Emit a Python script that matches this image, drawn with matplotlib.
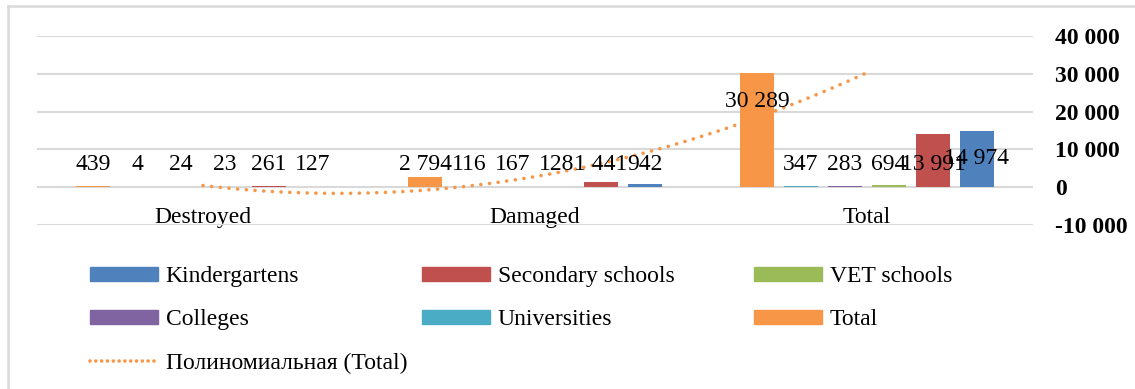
import numpy as np
import matplotlib
matplotlib.use('Agg')
import matplotlib.pyplot as plt
from matplotlib.patches import Patch
from matplotlib.lines import Line2D

plt.rcParams['font.family'] = ['Liberation Serif', 'DejaVu Serif']

categories = ['Destroyed', 'Damaged', 'Total']

# series in the order the bars sit inside each group
series_names = ['Total', 'Universities', 'Colleges', 'VET schools', 'Secondary schools', 'Kindergartens']
total = [439, 2794, 30289]
universities = [4, 116, 347]
colleges = [24, 167, 283]
vet_schools = [23, 128, 694]
secondary = [261, 1441, 13991]
kindergartens = [127, 942, 14974]

colors = {
    'Kindergartens': '#4F81BD',
    'Secondary schools': '#C0504D',
    'VET schools': '#9BBB59',
    'Colleges': '#8064A2',
    'Universities': '#4BACC6',
    'Total': '#F79646',
}

values = [total, universities, colleges, vet_schools, secondary, kindergartens]

fig = plt.figure(figsize=(11.35, 3.89), dpi=100)
ax = fig.add_axes([37 / 1135, (389 - 225) / 389, (1033 - 37) / 1135, (225 - 36) / 389])

x = np.arange(len(categories))
step = 0.1325
width = 0.105
fs = 17


def fmt(v):
    return f'{v:,}'.replace(',', ' ')


# data labels were pulled to a common height, a couple sit elsewhere
label_y = {(2, 0): 22800, (2, 5): 7700}

for i, (name, vals) in enumerate(zip(series_names, values)):
    xs = x + (i - 2.5) * step
    ax.bar(xs, vals, width, color=colors[name], zorder=2)
    for j, v in enumerate(vals):
        ax.text(xs[j], label_y.get((j, i), 6100), fmt(v), ha='center', va='center',
                fontsize=fs, zorder=3)

# polynomial trend of the Total series
coef = np.polyfit(x, total, 2)
xt = np.linspace(0, 2, 200)
ax.plot(xt, np.polyval(coef, xt), color='#F79646', lw=2.6,
        linestyle=(0, (0.01, 2.4)), dash_capstyle='round', zorder=1)

for s in ['top', 'left', 'right', 'bottom']:
    ax.spines[s].set_visible(False)
ax.spines['bottom'].set_position(('data', 0))

ax.set_xlim(-0.5, 2.5)
ax.set_ylim(-10000, 40000)
ax.set_yticks(np.arange(-10000, 40001, 10000))
ax.set_yticklabels([fmt(t) for t in np.arange(-10000, 40001, 10000)],
                   fontsize=fs, fontweight='bold')
ax.yaxis.tick_right()
ax.tick_params(axis='y', length=0, pad=16)
ax.grid(axis='y', color='#d9d9d9', lw=1.5, zorder=0)
ax.set_axisbelow(True)

ax.set_xticks(x)
ax.set_xticklabels(categories)
ax.tick_params(axis='x', length=0, pad=14, labelsize=fs)

# legend laid out row by row in three columns
col1 = [Patch(color=colors['Kindergartens']), Patch(color=colors['Colleges']),
        Line2D([0], [0], color='#F79646', lw=2.6, linestyle=(0, (0.01, 1.6)),
               dash_capstyle='round')]
col2 = [Patch(color=colors['Secondary schools']), Patch(color=colors['Universities'])]
col3 = [Patch(color=colors['VET schools']), Patch(color=colors['Total'])]
labels1 = ['Kindergartens', 'Colleges', 'Полиномиальная (Total)']
labels2 = ['Secondary schools', 'Universities']
labels3 = ['VET schools', 'Total']

for hx, hs, ls in [(90, col1, labels1), (422, col2, labels2), (754, col3, labels3)]:
    fig.legend(hs, ls, loc='upper left', bbox_to_anchor=(hx / 1135, (389 - 266) / 389),
               frameon=False, fontsize=fs, handlelength=2.9, handleheight=0.55,
               handletextpad=0.3, labelspacing=0.95, borderpad=0, borderaxespad=0)

# chart area outline
fig.add_artist(Line2D([8 / 1135, 8 / 1135], [-0.1, (389 - 6) / 389],
                      transform=fig.transFigure, color='#d9d9d9', lw=1.8))
fig.add_artist(Line2D([8 / 1135, 1.1], [(389 - 6) / 389, (389 - 6) / 389],
                      transform=fig.transFigure, color='#d9d9d9', lw=1.8))

fig.savefig('out.png', dpi=100)
